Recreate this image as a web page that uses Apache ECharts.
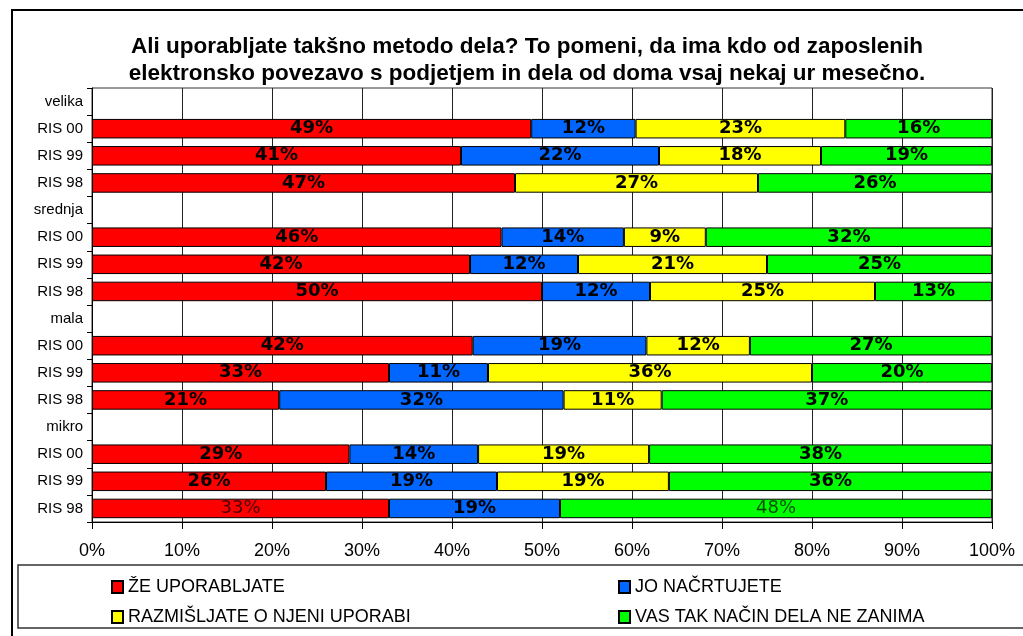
<!DOCTYPE html>
<html>
<head>
<meta charset="utf-8">
<script src="https://cdn.jsdelivr.net/npm/echarts@6/dist/echarts.min.js"></script>
<style>
    html, body {margin: 0; padding: 0; background: #fff;}
    #chart {width: 1023px; height: 636px;}
</style>
</head>
<body>
<div id="chart"></div>
<script>
// vrstice grafa (od zgoraj navzdol)
var categories = ['velika', 'RIS 00', 'RIS 99', 'RIS 98',
    'srednja', 'RIS 00', 'RIS 99', 'RIS 98',
    'mala', 'RIS 00', 'RIS 99', 'RIS 98',
    'mikro', 'RIS 00', 'RIS 99', 'RIS 98'];

var seriesNames = ['ŽE UPORABLJATE', 'JO NAČRTUJETE', 'RAZMIŠLJATE O NJENI UPORABI', 'VAS TAK NAČIN DELA NE ZANIMA'];

// deleži v %
var zeUporabljate = [null, 48.8, 41.0, 47.0, null, 45.5, 42.0, 50.0, null, 42.3, 33.0, 20.8, null, 28.6, 26.0, 33.0];
var joNacrtujete  = [null, 11.6, 22.0, null, null, 13.6, 12.0, 12.0, null, 19.3, 11.0, 31.6, null, 14.3, 19.0, 19.0];
var razmisljate   = [null, 23.3, 18.0, 27.0, null, 9.1, 21.0, 25.0, null, 11.5, 36.0, 10.9, null, 19.0, 19.1, null];
var neZanima      = [null, 16.3, 19.0, 26.0, null, 31.8, 25.0, 13.0, null, 26.9, 20.0, 36.7, null, 38.1, 35.9, 48.0];

var xTicks = [0, 10, 20, 30, 40, 50, 60, 70, 80, 90, 100];

var colors = ['#ff0000', '#0066ff', '#ffff00', '#00ff00'];
var plainLabelRow = 15; // v zadnji vrstici sta rdeča in zelena oznaka navadni (ne krepki)

var chart = echarts.init(document.getElementById('chart'));

function buildData(values, plain) {
    return values.map(function (v, i) {
        if (plain && i === plainLabelRow) {
            return {
                value: v,
                label: {fontWeight: 'normal', color: 'rgba(0,0,0,0.7)'}
            };
        }
        return v;
    });
}

function makeSeries(name, values, color, plain) {
    return {
        name: name,
        type: 'bar',
        stack: 'all',
        barCategoryGap: '28%',
        data: buildData(values, plain),
        itemStyle: {color: color, borderColor: '#000', borderWidth: 1},
        label: {
            show: true,
            position: 'inside',
            fontFamily: 'DejaVu Sans',
            fontWeight: 'bold',
            fontSize: 18,
            color: '#000',
            formatter: function (p) {
                if (p.value == null || p.value === 0) return '';
                return Math.round(p.value) + '%';
            }
        }
    };
}

function makeLegend(name, left, top) {
    return {
        data: [name],
        left: left,
        top: top,
        icon: 'rect',
        itemWidth: 11,
        itemHeight: 12,
        selectedMode: false,
        textStyle: {fontFamily: 'Liberation Sans, Arial', fontSize: 18, color: '#000'}
    };
}

var option = {
    animation: false,
    title: {
        text: 'Ali uporabljate takšno metodo dela? To pomeni, da ima kdo od zaposlenih\nelektronsko povezavo s podjetjem in dela od doma vsaj nekaj ur mesečno.',
        left: 522,
        textAlign: 'center',
        top: 28,
        textStyle: {
            fontFamily: 'Liberation Sans, Arial',
            fontWeight: 'bold',
            fontSize: 22.5,
            lineHeight: 27,
            color: '#000'
        }
    },
    legend: [
        makeLegend(seriesNames[0], 106, 573),
        makeLegend(seriesNames[1], 613, 573),
        makeLegend(seriesNames[2], 106, 603),
        makeLegend(seriesNames[3], 613, 603)
    ],
    graphic: [
        {
            type: 'rect',
            shape: {x: 12, y: 10, width: 1040, height: 660},
            style: {fill: 'none', stroke: '#000', lineWidth: 2},
            silent: true
        },
        {
            type: 'rect',
            shape: {x: 18, y: 565, width: 1030, height: 63},
            style: {fill: 'none', stroke: '#333', lineWidth: 1.5},
            silent: true
        }
    ],
    grid: {
        left: 92,
        right: 31,
        top: 88,
        bottom: 114,
        show: true,
        borderColor: '#333',
        borderWidth: 1
    },
    xAxis: {
        type: 'value',
        min: xTicks[0],
        max: xTicks[xTicks.length - 1],
        interval: 10,
        axisLine: {show: true, lineStyle: {color: '#000'}},
        axisTick: {show: true, length: 7, lineStyle: {color: '#000'}},
        splitLine: {show: true, lineStyle: {color: '#222', width: 1}},
        axisLabel: {
            margin: 20,
            fontFamily: 'Liberation Sans, Arial',
            fontSize: 18,
            color: '#000',
            formatter: '{value}%'
        }
    },
    yAxis: {
        type: 'category',
        inverse: true,
        data: categories,
        axisLine: {show: true, lineStyle: {color: '#000'}},
        axisTick: {show: true, length: 5, lineStyle: {color: '#000'}},
        axisLabel: {
            margin: 9,
            fontFamily: 'Liberation Sans, Arial',
            fontSize: 15,
            color: '#000'
        }
    },
    series: [
        makeSeries(seriesNames[0], zeUporabljate, colors[0], true),
        makeSeries(seriesNames[1], joNacrtujete, colors[1], false),
        makeSeries(seriesNames[2], razmisljate, colors[2], false),
        makeSeries(seriesNames[3], neZanima, colors[3], true)
    ]
};

chart.setOption(option);
</script>
</body>
</html>
